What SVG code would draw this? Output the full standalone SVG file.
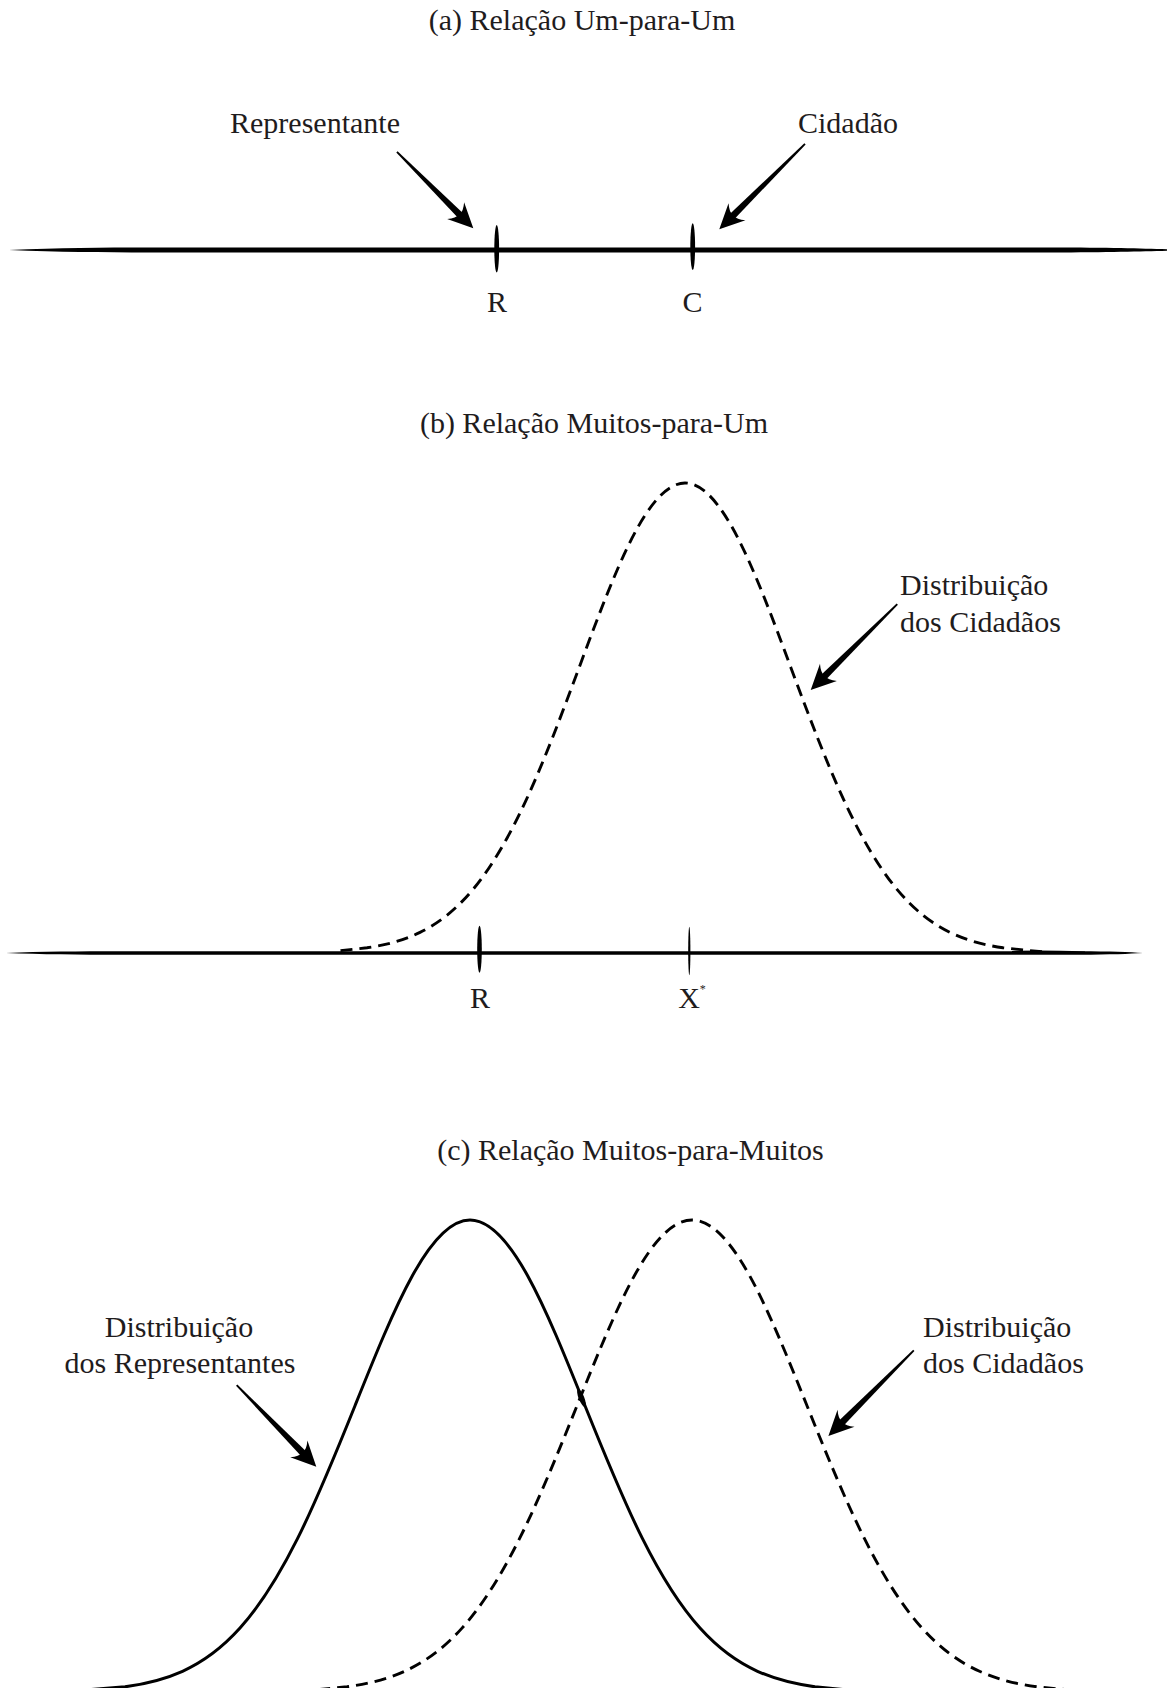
<svg xmlns="http://www.w3.org/2000/svg" xmlns:xlink="http://www.w3.org/1999/xlink" width="1167" height="1688" viewBox="0 0 1167 1688">
<style>
  text { font-family: "Liberation Serif", "Times New Roman", serif; font-size: 30px; fill: #1f1c1d; }
  .mid { text-anchor: middle; }
  .ink { fill: #000; stroke: none; }
  .dash { fill: none; stroke: #000; stroke-width: 2.9; stroke-dasharray: 12 7; }
  .solid { fill: none; stroke: #000; stroke-width: 3; }
</style>
<defs>
  <path id="ahead" d="M0,0 L-25,-12 Q-19,-5 -20,-1 L-20,1 Q-19,5 -25,12 Z"/>
</defs>
<rect width="1167" height="1688" fill="#fff"/>

<!-- (a) -->
<g id="title-a"><text class="mid" x="582" y="30">(a) Relação Um-para-Um</text></g>
<g id="axis-a">
  <path class="ink" d="M9,250 C60,248 100,247.6 150,247.6 L1050,247.6 C1110,247.6 1140,248.6 1167,249.3 L1167,250.7 C1140,251.4 1110,252.4 1050,252.4 L150,252.4 C100,252.4 60,252 9,250 Z"/>
</g>
<g id="tick-a-R"><ellipse class="ink" cx="496.7" cy="248.8" rx="2.4" ry="23.8"/><text class="mid" x="497" y="312">R</text></g>
<g id="tick-a-C"><ellipse class="ink" cx="692.7" cy="246.7" rx="2.4" ry="23.4"/><text class="mid" x="692.5" y="312">C</text></g>
<g id="label-representante"><text class="mid" x="315" y="133">Representante</text></g>
<g id="label-cidadao"><text class="mid" x="848" y="133">Cidadão</text></g>

<!-- (b) -->
<g id="title-b"><text class="mid" x="594" y="433">(b) Relação Muitos-para-Um</text></g>
<g id="axis-b">
  <path class="ink" d="M6,953 C40,951.6 80,951.3 120,951.3 L1080,951.3 C1110,951.3 1130,952.2 1143,953 C1130,953.8 1110,954.7 1080,954.7 L120,954.7 C80,954.7 40,954.4 6,953 Z"/>
  <path class="ink" d="M1012,951 Q1040,950 1085,951.4 L1085,953 L1012,953 Z"/>
</g>
<g id="curve-b-cidadaos">
  <path class="dash" d="M340.5,950.6 L367,947.8 C384.67,945.19 402.33,941 420,932.4 C437.67,923.8 455.33,910.6 473,889.4 C490.67,868.2 508.33,838.55 526,800.4 C543.67,762.25 561.33,715.41 579,667.9 C596.67,620.39 614.33,572.76 632,538.2 C649.67,503.64 667.33,483 685,483 C702.67,483 720.33,503.64 738,538.2 C755.67,572.76 773.33,620.39 791,667.9 C808.67,715.41 826.33,762.25 844,800.4 C861.67,838.55 879.33,868.2 897,889.4 C914.67,910.6 932.33,923.8 950,932.4 C967.67,941 985.33,945.19 1003,947.8 L1030,950.6 L1045,952"/>
</g>
<g id="tick-b-R"><ellipse class="ink" cx="479.5" cy="949.3" rx="2.3" ry="23.5"/><text class="mid" x="480" y="1008">R</text></g>
<g id="tick-b-X"><ellipse class="ink" cx="689.3" cy="951" rx="1.1" ry="24.2"/><text x="678.2" y="1008">X<tspan font-size="12" dy="-15">*</tspan></text></g>
<g id="label-b-cidadaos">
  <text x="900" y="595">Distribuição</text>
  <text x="900" y="631.5">dos Cidadãos</text>
</g>

<!-- (c) -->
<g id="title-c"><text class="mid" x="630.5" y="1159.5">(c) Relação Muitos-para-Muitos</text></g>
<g id="curve-c-representantes">
  <path class="solid" d="M90,1689.6 L125,1686.8 C144.17,1684.18 163.33,1679.93 182.5,1671.3 C201.67,1662.67 220.83,1649.39 240,1628.1 C259.17,1606.81 278.33,1577.01 297.5,1538.7 C316.67,1500.39 335.83,1453.41 355,1405.7 C374.17,1357.99 393.33,1310.21 412.5,1275.5 C431.67,1240.79 450.83,1220 470,1220 C489.17,1220 508.33,1240.79 527.5,1275.5 C546.67,1310.21 565.83,1357.99 585,1405.7 C604.17,1453.41 623.33,1500.39 642.5,1538.7 C661.67,1577.01 680.83,1606.81 700,1628.1 C719.17,1649.39 738.33,1662.67 757.5,1671.3 C776.67,1679.93 795.83,1684.18 815,1686.8 L843.75,1689.6"/>
  <ellipse class="ink" cx="581.5" cy="1398" rx="2.8" ry="9.5" transform="rotate(-22 581.5 1398)"/>
</g>
<g id="curve-c-cidadaos">
  <path class="dash" d="M318.25,1689.6 L347,1686.8 C366.17,1684.18 385.33,1679.93 404.5,1671.3 C423.67,1662.67 442.83,1649.39 462,1628.1 C481.17,1606.81 500.33,1577.01 519.5,1538.7 C538.67,1500.39 557.83,1453.41 577,1405.7 C596.17,1357.99 615.33,1310.21 634.5,1275.5 C653.67,1240.79 672.83,1220 692,1220 C711.17,1220 730.33,1240.79 749.5,1275.5 C768.67,1310.21 787.83,1357.99 807,1405.7 C826.17,1453.41 845.33,1500.39 864.5,1538.7 C883.67,1577.01 902.83,1606.81 922,1628.1 C941.17,1649.39 960.33,1662.67 979.5,1671.3 C998.67,1679.93 1017.83,1684.18 1037,1686.8 L1065.75,1689.6"/>
</g>
<g id="label-c-representantes">
  <text class="mid" x="179" y="1337">Distribuição</text>
  <text class="mid" x="180" y="1373">dos Representantes</text>
</g>
<g id="label-c-cidadaos">
  <text x="923" y="1337">Distribuição</text>
  <text x="923" y="1373">dos Cidadãos</text>
</g>

<!-- connectors -->
<g id="connectors" class="ink">
  <g id="arrow-representante" transform="translate(473.3,228.3) rotate(45)">
    <path d="M-108,-0.9 L-19,-3.4 L-19,3.4 L-108,0.9 Z"/><use xlink:href="#ahead" href="#ahead"/>
  </g>
  <g id="arrow-cidadao" transform="translate(719.3,229.3) rotate(135.1)">
    <path d="M-121,-0.9 L-19,-3.4 L-19,3.4 L-121,0.9 Z"/><use xlink:href="#ahead" href="#ahead"/>
  </g>
  <g id="arrow-b-cidadaos" transform="translate(810.7,690) rotate(135.2)">
    <path d="M-122,-0.9 L-19,-3.4 L-19,3.4 L-122,0.9 Z"/><use xlink:href="#ahead" href="#ahead"/>
  </g>
  <g id="arrow-c-representantes" transform="translate(316.3,1466.7) rotate(45.7)">
    <path d="M-114,-0.9 L-19,-3.4 L-19,3.4 L-114,0.9 Z"/><use xlink:href="#ahead" href="#ahead"/>
  </g>
  <g id="arrow-c-cidadaos" transform="translate(828.4,1436) rotate(134.9)">
    <path d="M-121,-0.9 L-19,-3.4 L-19,3.4 L-121,0.9 Z"/><use xlink:href="#ahead" href="#ahead"/>
  </g>
</g>
</svg>
